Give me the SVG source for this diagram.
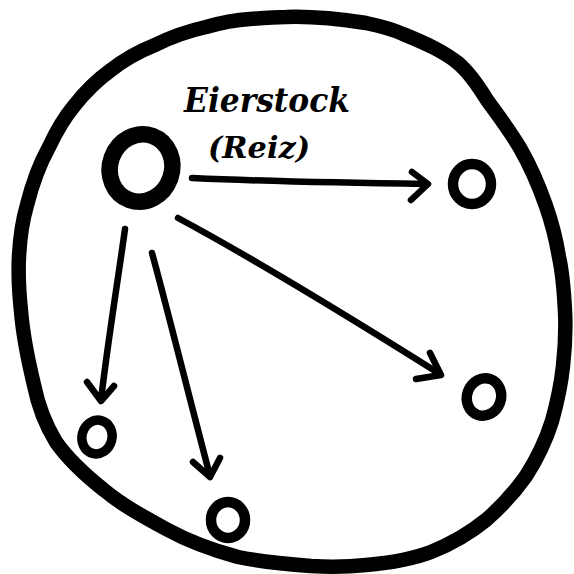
<svg xmlns="http://www.w3.org/2000/svg" width="574" height="574" viewBox="0 0 574 574">
<style>
.ink{fill:none;stroke:#000;stroke-linecap:round;stroke-linejoin:round}
.lbl{font-family:"DejaVu Serif","Liberation Serif",serif;font-style:italic;font-weight:bold;fill:#000}
</style>
<rect width="574" height="574" fill="#fff"/>
<g id="boundary">
<path class="ink" stroke-width="14.5" d="M286,17 C315,16 340,19 366,23 C380,26 392,29 403,34 C425,43 443,51 458,63 C470,73 479,87 487,100 C500,118 510,131 520,148 C531,167 539,186 546,206 C552,223 556,239 559,257 C563,275 564,292 565,311 C566,330 565,348 563,366 C561,385 557,403 552,421 C546,440 537,459 526,476 C514,493 501,507 486,520 C470,533 451,544 431,552 C410,560 389,563 366,565 C347,567 329,567 311,566 C286,564 262,562 238,557 C212,550 188,541 166,529 C144,517 122,505 104,490 C85,475 68,459 56,442 C45,424 38,405 34,385 C28,360 23,336 21,311 C19,292 18,274 19,256 C20,238 22,222 27,205 C32,185 39,165 49,147 C56,132 64,118 74,106 C85,92 97,80 111,70 C125,59 140,51 155,45 C171,37 188,31 206,27 C220,23 235,20 250,19 C262,18 274,17 286,17 Z"/>
</g>
<g id="eierstock">
<ellipse class="ink" cx="141" cy="168" rx="31" ry="34" stroke-width="16.5" transform="rotate(20 141 168)"/>
<text class="lbl" x="184" y="112" font-size="34" textLength="166" lengthAdjust="spacingAndGlyphs">Eierstock</text>
<text class="lbl" x="208" y="158" font-size="30" textLength="102" lengthAdjust="spacingAndGlyphs">(Reiz)</text>
</g>
<g id="n1"><ellipse class="ink" cx="472" cy="184" rx="19" ry="20" stroke-width="10.5"/></g>
<g id="n2"><ellipse class="ink" cx="484" cy="397" rx="17" ry="19" stroke-width="10.5" transform="rotate(20 484 397)"/></g>
<g id="n3"><ellipse class="ink" cx="97" cy="437" rx="15" ry="17" stroke-width="9.5" transform="rotate(15 97 437)"/></g>
<g id="n4"><ellipse class="ink" cx="228" cy="520" rx="17" ry="18" stroke-width="10.5"/></g>
<g id="connectors">
<path class="ink" stroke-width="6.5" d="M192,178 C260,181 350,183 427,184"/>
<path class="ink" stroke-width="6.5" d="M412,172 L428,184 L411,200"/>
<path class="ink" stroke-width="6.5" d="M178,218 C260,262 370,330 440,374"/>
<path class="ink" stroke-width="6.5" d="M430,353 L441,375 L416,379"/>
<path class="ink" stroke-width="6.5" d="M125,229 C118,280 108,340 101,400"/>
<path class="ink" stroke-width="6.5" d="M87,382 L101,401 L114,386"/>
<path class="ink" stroke-width="6.5" d="M152,253 C165,300 190,400 210,476"/>
<path class="ink" stroke-width="6.5" d="M193,462 L210,477 L220,458"/>
</g>
</svg>
